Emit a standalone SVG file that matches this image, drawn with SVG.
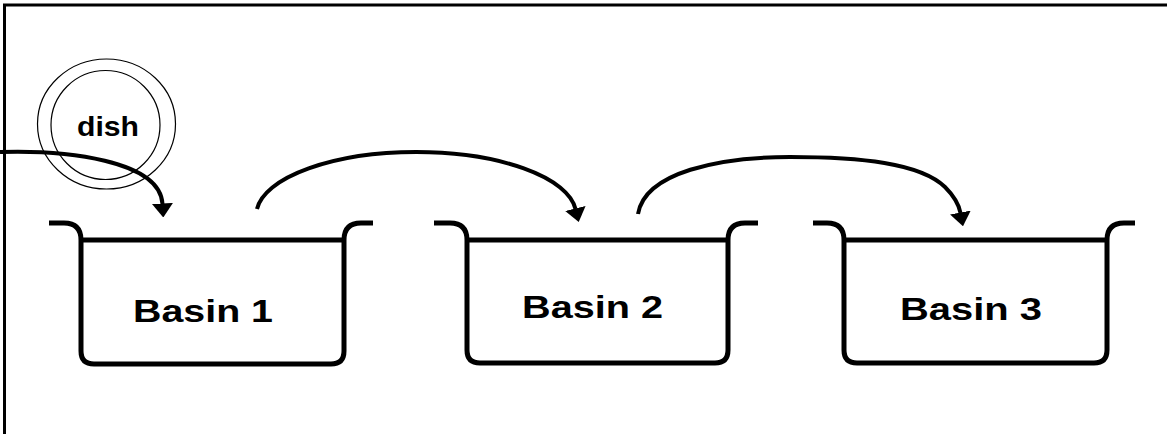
<svg xmlns="http://www.w3.org/2000/svg" width="1167" height="434" viewBox="0 0 1167 434">
  <style>
    .basin { fill: none; stroke: #000; stroke-width: 5; stroke-linejoin: round; stroke-linecap: butt; }
    .label { font-family: "Liberation Sans", Arial, sans-serif; font-weight: bold; font-size: 32px; fill: #000; }
    .dish { font-family: "Liberation Sans", Arial, sans-serif; font-weight: bold; font-size: 27px; fill: #000; }
    .ring { fill: none; stroke: #000; stroke-width: 1.2; }
    .conn { fill: none; stroke: #000; stroke-width: 4; }
  </style>
  <defs>
    <marker id="arrow" markerUnits="userSpaceOnUse" viewBox="0 0 14 21" markerWidth="14" markerHeight="21" refX="0.5" refY="10.5" orient="auto">
      <path d="M0,0 L14,10.5 L0,21 z" fill="#000"/>
    </marker>
  </defs>
  <rect width="1167" height="434" fill="#fff"/>
  <path d="M4.5,434 V5 H1167" fill="none" stroke="#000" stroke-width="3"/>

  <g id="dish">
    <ellipse class="ring" cx="106.5" cy="124" rx="69" ry="65"/>
    <ellipse class="ring" cx="105.5" cy="125" rx="54.5" ry="54.5"/>
    <text class="dish" x="77" y="136" textLength="62" lengthAdjust="spacingAndGlyphs">dish</text>
  </g>

  <g id="basin1">
    <path class="basin" d="M49,223 H64 Q81,223 81,240 V351 Q81,364 94,364 H331 Q344,364 344,351 V240 Q344,223 361,223 H373"/>
    <path class="basin" d="M81,240 H344"/>
    <text class="label" x="133" y="322" textLength="140" lengthAdjust="spacingAndGlyphs">Basin 1</text>
  </g>

  <g id="basin2">
    <path class="basin" d="M434,223 H450 Q467,223 467,240 V350 Q467,363 480,363 H715 Q728,363 728,350 V240 Q728,223 745,223 H758"/>
    <path class="basin" d="M467,240 H728"/>
    <text class="label" x="522" y="318" textLength="141" lengthAdjust="spacingAndGlyphs">Basin 2</text>
  </g>

  <g id="basin3">
    <path class="basin" d="M813,223 H827 Q844,223 844,240 V350 Q844,363 857,363 H1094 Q1107,363 1107,350 V240 Q1107,223 1124,223 H1135"/>
    <path class="basin" d="M844,240 H1107"/>
    <text class="label" x="900" y="320" textLength="142" lengthAdjust="spacingAndGlyphs">Basin 3</text>
  </g>

  <g id="connectors">
    <path class="conn" d="M0,152 C65,150 160,160 162.5,204" marker-end="url(#arrow)"/>
    <path class="conn" d="M257,209 A160,63 0 0,1 575.5,209" marker-end="url(#arrow)"/>
    <path class="conn" d="M638,214 C645,172 720,157 790,157 C860,157 920,163 945,187 C955,197 959,205 960.5,213" marker-end="url(#arrow)"/>
  </g>
</svg>
